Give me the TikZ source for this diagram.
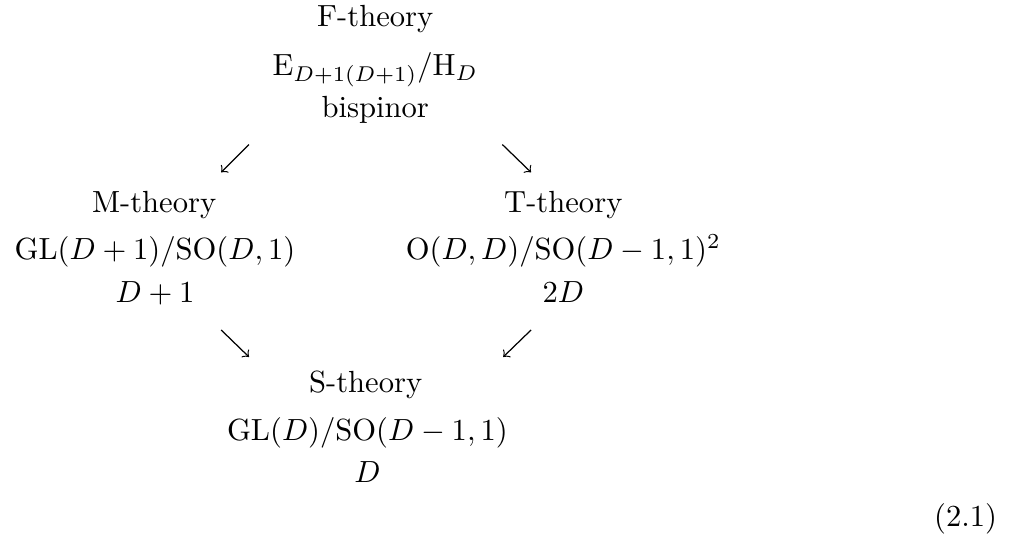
\documentclass[tikz,border=0pt]{standalone}
\usepackage{amsmath}

\begin{document}
\begin{tikzpicture}[
    x=1cm,
    y=1cm,
    every node/.style={font=\normalsize},
    rotulo/.style={inner sep=0pt, anchor=base},
    seta/.style={->, >=to, line width=0.4pt}
]

% Moldura:
% fixa as margens da figura inteira.
\useasboundingbox (0,0) rectangle (11.67,6.29);

% F-theory:
% bloco no topo, centralizado entre as duas colunas.
\node[rotulo] (fTheory) at (4.31,5.98) {F-theory};
\node[rotulo] (fCoset) at (4.31,5.42) {$\mathrm{E}_{D+1(D+1)}/\mathrm{H}_D$};
\node[rotulo] (fRep) at (4.31,4.94) {bispinor};

% M-theory e T-theory:
% os dois blocos do meio, lado a lado.
\node[rotulo] (mTheory) at (1.77,3.85) {M-theory};
\node[rotulo] (mCoset) at (1.78,3.31) {$\mathrm{GL}(D+1)/\mathrm{SO}(D,1)$};
\node[rotulo] (mDim) at (1.78,2.81) {$D+1$};

\node[rotulo] (tTheory) at (6.47,3.85) {T-theory};
\node[rotulo] (tCoset) at (6.47,3.31) {$\mathrm{O}(D,D)/\mathrm{SO}(D-1,1)^2$};
\node[rotulo] (tDim) at (6.47,2.81) {$2D$};

% S-theory:
% bloco de baixo, de novo ao centro.
\node[rotulo] (sTheory) at (4.20,1.78) {S-theory};
\node[rotulo] (sCoset) at (4.22,1.23) {$\mathrm{GL}(D)/\mathrm{SO}(D-1,1)$};
\node[rotulo] (sDim) at (4.22,0.75) {$D$};

% Numero da equacao:
% alinhado a direita, abaixo de tudo.
\node[rotulo, anchor=base east] (eqNum) at (11.46,0.24) {(2.1)};

% Setas:
% curtas, entre os blocos.
\coordinate (fmA) at (2.86,4.63);
\coordinate (fmB) at (2.54,4.31);
\coordinate (ftA) at (5.77,4.63);
\coordinate (ftB) at (6.10,4.31);
\coordinate (msA) at (2.54,2.50);
\coordinate (msB) at (2.86,2.19);
\coordinate (tsA) at (6.10,2.50);
\coordinate (tsB) at (5.78,2.19);

\draw[seta] (fmA) -- (fmB);
\draw[seta] (ftA) -- (ftB);
\draw[seta] (msA) -- (msB);
\draw[seta] (tsA) -- (tsB);

\end{tikzpicture}
\end{document}
